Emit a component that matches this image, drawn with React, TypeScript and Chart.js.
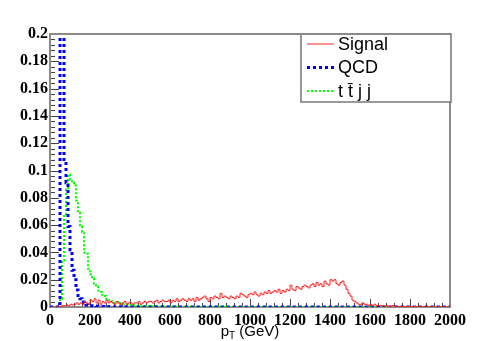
import React, { useEffect, useRef } from 'react';
import { Chart, registerables } from 'chart.js';

Chart.register(...registerables);

// ---- data ----
const BIN_WIDTH = 10; // GeV
const X_MIN = 0;
const X_MAX = 2000;
const Y_MIN = 0;
const Y_MAX = 0.2;
const X_TICK_STEP = 200;
const X_MINOR_STEP = 40;
const Y_TICK_STEP = 0.02;
const Y_MINOR_STEP = 0.004;

const seriesNames = ['Signal', 'QCD', 't t\u0304 j j'];

const signal = [
  0, 0, 0, 0, 0, 0.0005, 0.001, 0.001, 0.0015, 0.001,
  0.002, 0.0015, 0.002, 0.003, 0.002, 0.003, 0.002, 0.004, 0.003, 0.002,
  0.005, 0.004, 0.006, 0.003, 0.005, 0.002, 0.004, 0.003, 0.005, 0.003,
  0.004, 0.003, 0.002, 0.004, 0.003, 0.002, 0.003, 0.004, 0.002, 0.003,
  0.003, 0.002, 0.003, 0.003, 0.004, 0.002, 0.003, 0.004, 0.003, 0.004,
  0.004, 0.003, 0.004, 0.005, 0.003, 0.004, 0.005, 0.004, 0.004, 0.005,
  0.003, 0.005, 0.004, 0.006, 0.004, 0.005, 0.006, 0.005, 0.004, 0.006,
  0.005, 0.006, 0.004, 0.007, 0.005, 0.006, 0.007, 0.008, 0.006, 0.004,
  0.007, 0.006, 0.008, 0.007, 0.006, 0.010, 0.007, 0.008, 0.007, 0.006,
  0.008, 0.007, 0.006, 0.008, 0.007, 0.010, 0.009, 0.008, 0.007, 0.009,
  0.010, 0.009, 0.011, 0.009, 0.008, 0.010, 0.009, 0.011, 0.010, 0.012,
  0.010, 0.011, 0.012, 0.011, 0.013, 0.010, 0.012, 0.011, 0.013, 0.012,
  0.016, 0.013, 0.012, 0.015, 0.014, 0.013, 0.015, 0.016, 0.015, 0.014,
  0.016, 0.017, 0.015, 0.018, 0.016, 0.017, 0.015, 0.019, 0.017, 0.016,
  0.020, 0.019, 0.020, 0.017, 0.016, 0.018, 0.019, 0.016, 0.013, 0.010,
  0.008, 0.005, 0.004, 0.003, 0.002, 0.002, 0.003, 0.002, 0.002, 0.001,
  0.002, 0.001, 0.002, 0.001, 0.001, 0.001, 0.001, 0.0005, 0.001, 0.0005,
  0.0005, 0.001, 0.0005, 0.0005, 0.0003, 0.0005, 0.0003, 0.0003, 0.0005, 0.0003,
  0.0003, 0.0002, 0.0003, 0.0002, 0.0002, 0.0003, 0.0002, 0.0001, 0.0002, 0.0001,
  0.0001, 0.0002, 0.0001, 0.0001, 0.0001, 0.0002, 0.0001, 0.0001, 0.0001, 0.0001,
];

const qcd = [
  0, 0, 0, 0, 0, 0.5, 0.35, 0.108, 0.091, 0.059,
  0.042, 0.027, 0.020, 0.0125, 0.0073, 0.006, 0.0037, 0.003, 0.0015, 0.0012,
  0.001, 0.0008, 0.0007, 0.0006, 0.0005, 0.0004, 0.0004, 0.0003, 0.0003, 0.0002,
  0.0002, 0.0002, 0.0001, 0.0001, 0.0001, 0.0001, 0.0001, 0, 0.0001, 0,
  0, 0, 0, 0, 0, 0, 0, 0, 0, 0,
  0, 0, 0, 0, 0, 0, 0, 0, 0, 0,
  0, 0, 0, 0, 0, 0, 0, 0, 0, 0,
  0, 0, 0, 0, 0, 0, 0, 0, 0, 0,
  0, 0, 0, 0, 0, 0, 0, 0, 0, 0,
  0, 0, 0, 0, 0, 0, 0, 0, 0, 0,
  0, 0, 0, 0, 0, 0, 0, 0, 0, 0,
  0, 0, 0, 0, 0, 0, 0, 0, 0, 0,
  0, 0, 0, 0, 0, 0, 0, 0, 0, 0,
  0, 0, 0, 0, 0, 0, 0, 0, 0, 0,
  0, 0, 0, 0, 0, 0, 0, 0, 0, 0,
  0, 0, 0, 0, 0, 0, 0, 0, 0, 0,
  0, 0, 0, 0, 0, 0, 0, 0, 0, 0,
  0, 0, 0, 0, 0, 0, 0, 0, 0, 0,
  0, 0, 0, 0, 0, 0, 0, 0, 0, 0,
  0, 0, 0, 0, 0, 0, 0, 0, 0, 0,
];

const ttjj = [
  0, 0, 0, 0, 0, 0.006, 0.034, 0.068, 0.086, 0.097,
  0.093, 0.091, 0.089, 0.078, 0.069, 0.059, 0.055, 0.040, 0.039, 0.028,
  0.024, 0.021, 0.017, 0.015, 0.012, 0.011, 0.009, 0.008, 0.006, 0.005,
  0.005, 0.004, 0.003, 0.0035, 0.003, 0.0025, 0.002, 0.002, 0.0018, 0.0015,
  0.0015, 0.001, 0.0012, 0.001, 0.001, 0.0008, 0.0008, 0.0007, 0.0006, 0.0006,
  0.0005, 0.0005, 0.0004, 0.0005, 0.0004, 0.0004, 0.0003, 0.0004, 0.0003, 0.0003,
  0.0003, 0.0002, 0.0003, 0.0002, 0.0002, 0.0002, 0.0002, 0.0001, 0.0002, 0.0001,
  0.0001, 0.0001, 0.0001, 0.0001, 0.0001, 0.0001, 0.0001, 0.0001, 0.0001, 0.0001,
  0.0001, 0.0001, 0.0001, 0.0001, 0.0001, 0, 0.0001, 0, 0.0001, 0,
  0, 0, 0, 0, 0, 0, 0, 0, 0, 0,
  0, 0, 0, 0, 0, 0, 0, 0, 0, 0,
  0, 0, 0, 0, 0, 0, 0, 0, 0, 0,
  0, 0, 0, 0, 0, 0, 0, 0, 0, 0,
  0, 0, 0, 0, 0, 0, 0, 0, 0, 0,
  0, 0, 0, 0, 0, 0, 0, 0, 0, 0,
  0, 0, 0, 0, 0, 0, 0, 0, 0, 0,
  0, 0, 0, 0, 0, 0, 0, 0, 0, 0,
  0, 0, 0, 0, 0, 0, 0, 0, 0, 0,
  0, 0, 0, 0, 0, 0, 0, 0, 0, 0,
  0, 0, 0, 0, 0, 0, 0, 0, 0, 0,
];

// histogram -> step points at bin low edges (+ closing edge)
function toSteps(values: number[]) {
  const pts = values.map((v, i) => ({ x: X_MIN + i * BIN_WIDTH, y: v }));
  pts.push({ x: X_MIN + values.length * BIN_WIDTH, y: values[values.length - 1] });
  return pts;
}

const AXIS_FONT = 'Liberation Serif';
const TEXT_FONT = 'Liberation Sans';

const rootFrame = {
  id: 'rootFrame',
  beforeDatasetsDraw(chart: any) {
    const { ctx, chartArea: a, scales } = chart;
    const x = scales.x;
    const y = scales.y;
    ctx.save();
    ctx.strokeStyle = '#444';
    ctx.lineWidth = 1;
    ctx.beginPath();
    const nx = Math.round((X_MAX - X_MIN) / X_MINOR_STEP);
    const perMajorX = Math.round(X_TICK_STEP / X_MINOR_STEP);
    for (let i = 0; i <= nx; i++) {
      const v = X_MIN + i * X_MINOR_STEP;
      const px = Math.round(x.getPixelForValue(v)) + 0.5;
      const len = i % perMajorX === 0 ? 8 : 4;
      ctx.moveTo(px, a.bottom);
      ctx.lineTo(px, a.bottom - len);
    }
    const ny = Math.round((Y_MAX - Y_MIN) / Y_MINOR_STEP);
    const perMajorY = Math.round(Y_TICK_STEP / Y_MINOR_STEP);
    for (let i = 0; i <= ny; i++) {
      const v = Y_MIN + i * Y_MINOR_STEP;
      const py = Math.round(y.getPixelForValue(v)) + 0.5;
      const len = i % perMajorY === 0 ? 9 : 5;
      ctx.moveTo(a.left, py);
      ctx.lineTo(a.left + len, py);
    }
    ctx.stroke();
    ctx.strokeStyle = '#8a8a8a';
    ctx.lineWidth = 2;
    ctx.strokeRect(a.left, a.top, a.right - a.left, a.bottom - a.top);
    ctx.restore();
  },
  afterDraw(chart: any) {
    const { ctx, chartArea: a } = chart;
    ctx.save();
    // legend box
    const bw = 150;
    const bh = 68;
    const bx = a.right - bw + 1;
    const by = a.top;
    ctx.fillStyle = '#ffffff';
    ctx.fillRect(bx, by, bw, bh);
    ctx.strokeStyle = '#777';
    ctx.lineWidth = 1.5;
    ctx.strokeRect(bx, by, bw, bh);
    ctx.strokeStyle = '#8a8a8a';
    ctx.lineWidth = 2;
    ctx.beginPath();
    ctx.moveTo(a.left, a.top);
    ctx.lineTo(a.right, a.top);
    ctx.stroke();
    chart.data.datasets.forEach((ds: any, i: number) => {
      const cy = by + 10 + i * 23.5;
      ctx.beginPath();
      ctx.strokeStyle = ds.borderColor;
      ctx.lineWidth = ds.borderWidth;
      ctx.setLineDash(ds.borderDash || []);
      ctx.moveTo(bx + 6, cy);
      ctx.lineTo(bx + 33, cy);
      ctx.stroke();
      ctx.setLineDash([]);
      ctx.fillStyle = '#000';
      ctx.font = `18px "${TEXT_FONT}"`;
      ctx.textBaseline = 'middle';
      ctx.textAlign = 'left';
      ctx.fillText(ds.label, bx + 37, cy + 1);
    });
    // x title: p_T (GeV)
    ctx.fillStyle = '#000';
    ctx.textBaseline = 'alphabetic';
    ctx.textAlign = 'left';
    const base = 336;
    ctx.font = `15px "${TEXT_FONT}"`;
    const wP = ctx.measureText('p').width;
    const rest = ' (GeV)';
    const wRest = ctx.measureText(rest).width;
    ctx.font = `10px "${TEXT_FONT}"`;
    const wT = ctx.measureText('T').width;
    const total = wP + wT + wRest;
    let tx = (a.left + a.right) / 2 - total / 2;
    ctx.font = `15px "${TEXT_FONT}"`;
    ctx.fillText('p', tx, base);
    tx += wP;
    ctx.font = `10px "${TEXT_FONT}"`;
    ctx.fillText('T', tx, base + 3);
    tx += wT;
    ctx.font = `15px "${TEXT_FONT}"`;
    ctx.fillText(rest, tx, base);
    ctx.restore();
  },
};

export default function App() {
  const ref = useRef<HTMLCanvasElement | null>(null);
  useEffect(() => {
    document.body.style.margin = '0';
    const canvas = ref.current;
    if (!canvas) return;
    const chart = new Chart(canvas, {
      type: 'line',
      data: {
        datasets: [
          {
            label: seriesNames[0],
            data: toSteps(signal),
            borderColor: '#ff2020',
            borderWidth: 1,
            stepped: 'before',
            pointRadius: 0,
            fill: false,
          },
          {
            label: seriesNames[1],
            data: toSteps(qcd),
            borderColor: '#0000ff',
            borderWidth: 3,
            borderDash: [3, 3],
            stepped: 'before',
            pointRadius: 0,
            fill: false,
          },
          {
            label: seriesNames[2],
            data: toSteps(ttjj),
            borderColor: '#00ff00',
            borderWidth: 2,
            borderDash: [2, 2],
            stepped: 'before',
            pointRadius: 0,
            fill: false,
          },
        ],
      },
      options: {
        animation: false,
        responsive: false,
        maintainAspectRatio: false,
        parsing: false,
        layout: { padding: { top: 34, right: 51, left: 0, bottom: 0 } },
        plugins: { legend: { display: false }, tooltip: { enabled: false } },
        scales: {
          x: {
            type: 'linear',
            min: X_MIN,
            max: X_MAX,
            grid: { display: false, drawTicks: false },
            border: { display: false },
            afterFit: (s: any) => { s.height = 34; },
            ticks: {
              stepSize: X_TICK_STEP,
              autoSkip: false,
              maxRotation: 0,
              padding: 4,
              color: '#000',
              font: { family: AXIS_FONT, weight: 'bold', size: 16 },
              callback: (v: any) => String(v),
            },
          },
          y: {
            type: 'linear',
            min: Y_MIN,
            max: Y_MAX,
            grid: { display: false, drawTicks: false },
            border: { display: false },
            afterFit: (s: any) => { s.width = 50; },
            ticks: {
              stepSize: Y_TICK_STEP,
              autoSkip: false,
              padding: 2,
              color: '#000',
              font: { family: AXIS_FONT, weight: 'bold', size: 16 },
              callback: (v: any) => String(Number(Number(v).toFixed(3))),
            },
          },
        },
      },
      plugins: [rootFrame],
    } as any);
    return () => chart.destroy();
  }, []);
  return (
    <div style={{ width: 501, height: 341, background: '#fff' }}>
      <canvas ref={ref} width={501} height={341} style={{ display: 'block' }} />
    </div>
  );
}
